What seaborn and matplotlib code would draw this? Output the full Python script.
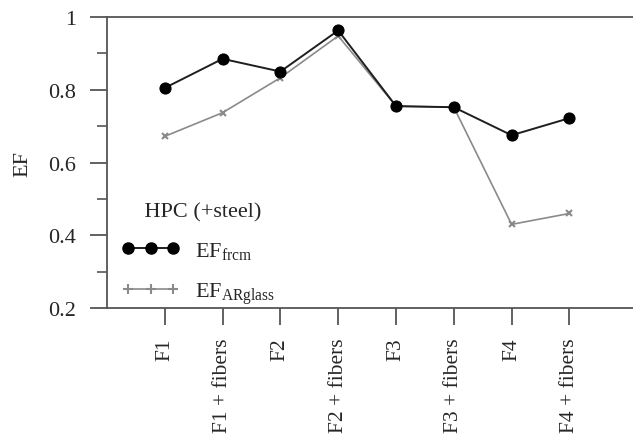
import numpy as np
import pandas as pd
import matplotlib
matplotlib.use('Agg')
import matplotlib.pyplot as plt
import seaborn as sns
from matplotlib.lines import Line2D
from matplotlib.ticker import MultipleLocator

# データ
categories = ['F1', 'F1 + fibers', 'F2', 'F2 + fibers',
              'F3', 'F3 + fibers', 'F4', 'F4 + fibers']
ef_frcm = [0.805, 0.885, 0.850, 0.963, 0.755, 0.752, 0.675, 0.722]
ef_arglass = [0.672, 0.737, 0.833, 0.948, 0.755, 0.752, 0.430, 0.460]

sns.set_theme(style='ticks')
plt.rcParams['font.family'] = ['Liberation Serif', 'DejaVu Serif']
plt.rcParams['mathtext.fontset'] = 'custom'
plt.rcParams['mathtext.rm'] = 'Liberation Serif'
plt.rcParams['mathtext.it'] = 'Liberation Serif'

df = pd.DataFrame({'pos': np.arange(len(categories)),
                   'frcm': ef_frcm, 'arglass': ef_arglass})

fig = plt.figure(figsize=(6.33, 4.39), dpi=100)
ax = fig.add_axes([0.169, 0.296, 0.831, 0.663])

sns.lineplot(data=df, x='pos', y='arglass', ax=ax, color='#8a8a8a',
             lw=1.2, marker='x', markersize=5, markeredgewidth=1.5,
             markeredgecolor='#8a8a8a')
sns.lineplot(data=df, x='pos', y='frcm', ax=ax, color='#1e1e1e',
             lw=1.4, marker='o', markersize=8, markeredgecolor='black',
             markerfacecolor='black')

ax.set_xlim(-1, 8.1)
ax.set_ylim(0.2, 1.0)
ax.set_xticks(df['pos'])
ax.set_xticklabels(categories, rotation=90, fontsize=15.5)
ax.set_yticks([0.2, 0.4, 0.6, 0.8, 1.0])
ax.set_yticklabels(['0.2', '0.4', '0.6', '0.8', '1'], fontsize=16)
ax.yaxis.set_minor_locator(MultipleLocator(0.1))
ax.set_xlabel('')
ax.set_ylabel('EF', fontsize=16, labelpad=12)

for s in ['left', 'top', 'bottom']:
    ax.spines[s].set_color('#555555')
    ax.spines[s].set_linewidth(1.3)
ax.spines['right'].set_visible(False)
ax.tick_params(axis='both', which='major', length=12, width=1.3,
               color='#555555', pad=10, direction='out')
ax.tick_params(axis='y', which='minor', length=7, width=1.2,
               color='#555555', direction='out')
ax.tick_params(axis='x', pad=9)

handles = [
    Line2D([0], [0], color='#1e1e1e', lw=1.4, marker='o', markersize=8,
           markerfacecolor='black', markeredgecolor='black'),
    Line2D([0], [0], color='#8a8a8a', lw=1.2, marker='+', markersize=7,
           markeredgewidth=1.5),
]
leg = ax.legend(handles, [r'EF$_{\mathrm{frcm}}$', r'EF$_{\mathrm{ARglass}}$'],
                title='    HPC (+steel)', loc='lower left',
                bbox_to_anchor=(-0.01, -0.06), frameon=False, numpoints=3,
                fontsize=16, title_fontsize=16, handlelength=2.6,
                labelspacing=0.85, handletextpad=0.7)
leg._legend_box.align = 'left'

fig.savefig('out.png', dpi=100)
